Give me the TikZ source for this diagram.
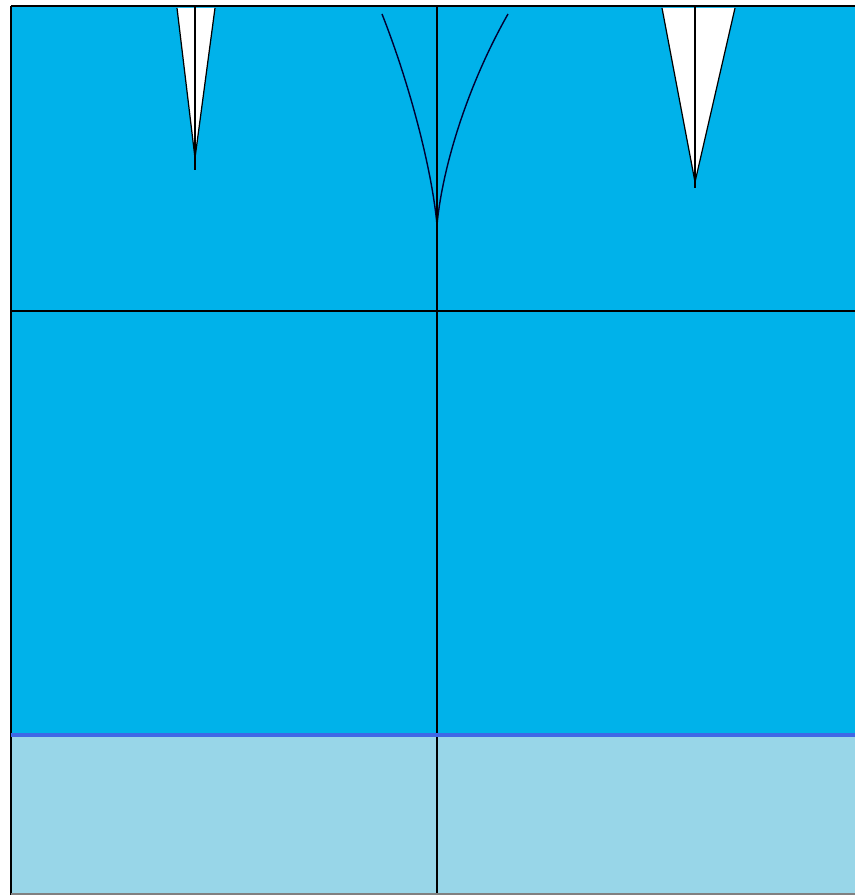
\documentclass[tikz,border=0pt]{standalone}
\usepackage{tikz}

\definecolor{iceblue}{RGB}{0,178,234}
\definecolor{paleblue}{RGB}{152,214,232}
\definecolor{lineblue}{RGB}{64,104,230}

\begin{document}
\begin{tikzpicture}[
  x=0.02cm, y=-0.02cm,
  grid/.style={black, line width=0.8pt},
  wedge/.style={draw=black, fill=white, line width=0.7pt, line join=miter},
  crack/.style={black!80!blue, line width=0.8pt}
]
  \useasboundingbox (0,0) rectangle (855,895);

  % fields
  \fill[iceblue]  (11,6)   rectangle (855,735);
  \fill[paleblue] (11,735) rectangle (855,895);

  % corner points
  \coordinate (tl) at (11,6);
  \coordinate (tr) at (855,6);
  \coordinate (ml) at (11,311);
  \coordinate (mr) at (855,311);
  \coordinate (bl) at (11,895);
  \coordinate (tc) at (437,6);
  \coordinate (bc) at (437,895);
  \coordinate (wl) at (11,735);
  \coordinate (wr) at (855,735);

  % white wedges
  \filldraw[wedge] (177,8) -- (195,158) -- (215,8);
  \filldraw[wedge] (662,8) -- (695,182) -- (735,8);
  \draw[grid] (195,6) -- (195,170);
  \draw[grid] (695,6) -- (695,188);

  % middle crack
  \coordinate (tip) at (437,225);
  \draw[crack] (382,14) .. controls (410,85) and (432,170) .. (tip);
  \draw[crack] (508,14) .. controls (466,88) and (442,170) .. (tip);

  % grid lines
  \draw[grid] (tl) -- (tr);
  \draw[grid] (tl) -- (bl);
  \draw[grid] (ml) -- (mr);
  \draw[grid] (tc) -- (bc);
  \draw[lineblue, line width=2.8pt] (wl) -- (wr);
  \draw[gray, line width=0.8pt] (11,894) -- (855,894);
\end{tikzpicture}
\end{document}
